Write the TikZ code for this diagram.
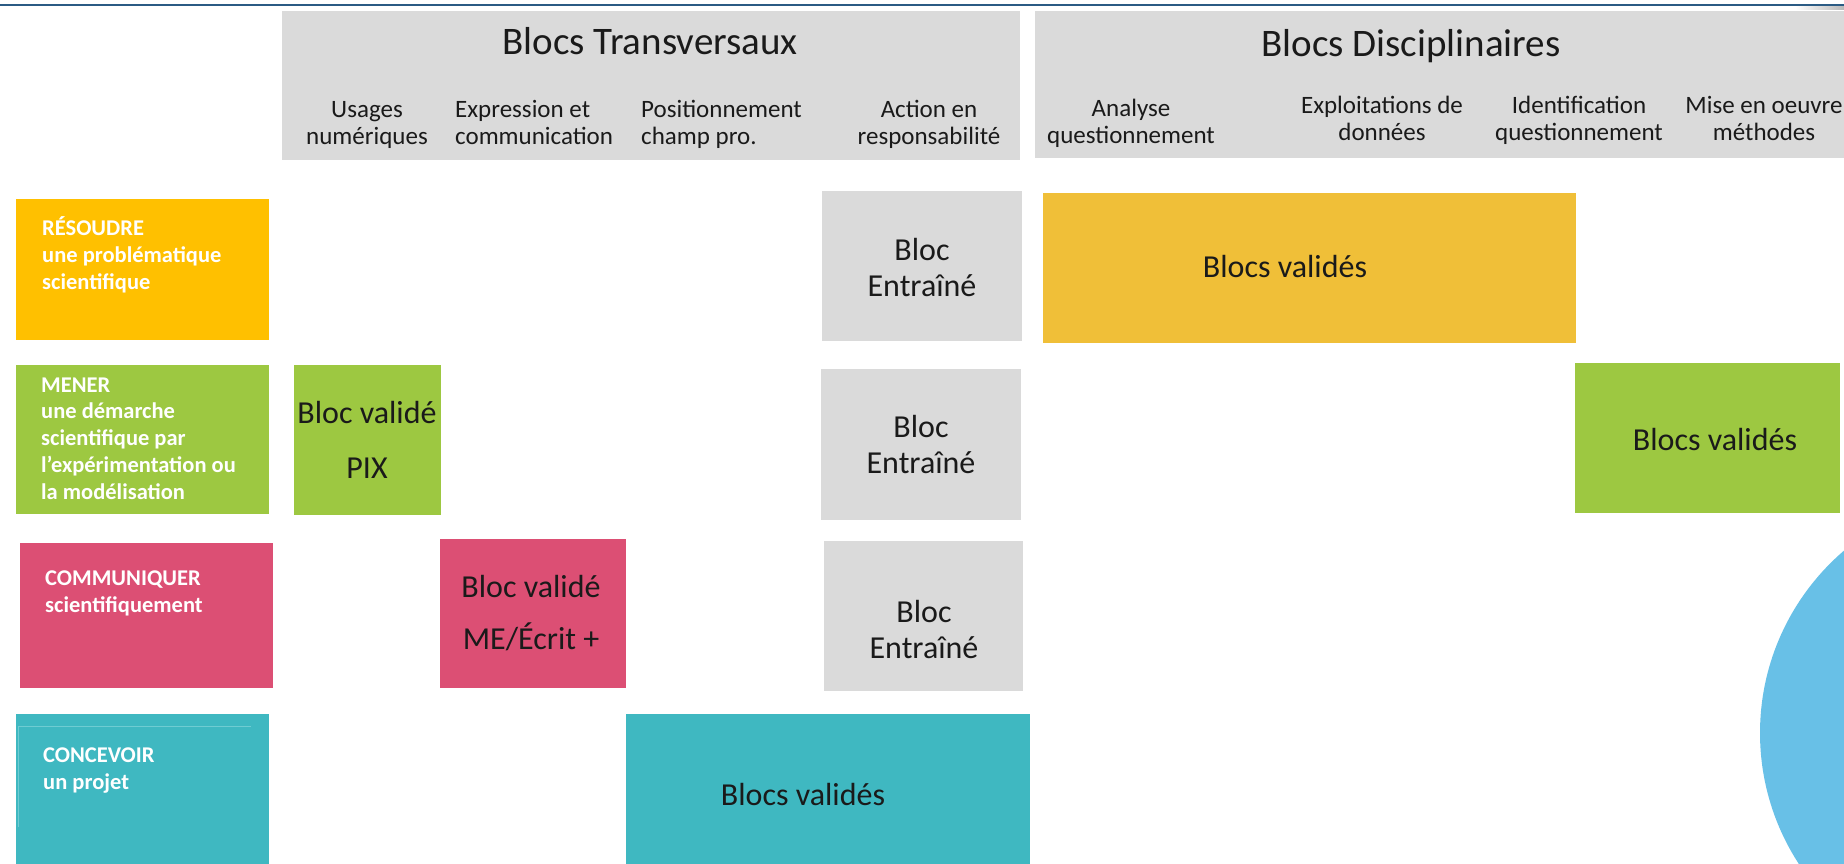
\documentclass[tikz,border=0pt]{standalone}
\usepackage{fontspec}
\setmainfont{Carlito}
\definecolor{cgray}{HTML}{DADADA}
\definecolor{cyel}{HTML}{FFC000}
\definecolor{cyelb}{HTML}{F0BF38}
\definecolor{cgrn}{HTML}{9DC841}
\definecolor{cpink}{HTML}{DC4F74}
\definecolor{cteal}{HTML}{3FB8C1}
\definecolor{ctealln}{HTML}{6FCCD2}
\definecolor{ccirc}{HTML}{68C0E7}
\definecolor{cline}{HTML}{2B5B84}
\definecolor{ctxt}{HTML}{1A1A1A}
\begin{document}
\begin{tikzpicture}[x=1pt,y=-1pt,
  cell/.style={rectangle, inner sep=0pt, outer sep=0pt, anchor=north west, draw=none},
  lab/.style={anchor=base west, inner sep=0pt, align=left, text=white, font=\fontsize{22.5}{26.75}\selectfont\bfseries},
  colhead/.style={anchor=base, inner sep=0pt, align=center, text=ctxt, font=\fontsize{25}{27}\selectfont},
  colheadl/.style={colhead, anchor=base west, align=left},
  titletxt/.style={anchor=base, inner sep=0pt, text=ctxt, font=\fontsize{39}{42}\selectfont},
  blk/.style={anchor=base, inner sep=0pt, align=center, text=ctxt, font=\fontsize{32}{36}\selectfont}
]
\useasboundingbox (0,0) rectangle (1844,864);
% background circle (clipped)
\begin{scope}
  \clip (0,0) rectangle (1844,864);
  \fill[ccirc] (2000,733) circle[radius=240];
\end{scope}
% top rule and its faint shadow at the right end
\shade[left color=white, right color=gray!55] (1795,6) rectangle (1844,10);
\draw[cline, line width=2.5pt] (0,5) -- (1844,5);

% headers
\node[cell, fill=cgray, minimum width=738pt, minimum height=149pt] (hT) at (282,11) {};
\node[cell, fill=cgray, minimum width=815pt, minimum height=147pt] (hD) at (1035,11) {};
\node[titletxt] (tT) at (650,55) {Blocs Transversaux};
\node[titletxt] (tD) at (1411,57) {Blocs Disciplinaires};

\node[colhead] (c1) at (367,145) {Usages\\numériques};
\node[colheadl] (c2) at (455,145) {Expression et\\communication};
\node[colheadl] (c3) at (641,145) {Positionnement\\champ pro.};
\node[colhead] (c4) at (929,144) {Action en\\responsabilité};
\node[colhead] (c5) at (1131,143) {Analyse\\questionnement};
\node[colhead] (c6) at (1382,140) {Exploitations de\\données};
\node[colhead] (c7) at (1579,140) {Identification\\questionnement};
\node[colhead] (c8) at (1764,140) {Mise en oeuvre\\méthodes};

% row labels
\node[cell, fill=cyel, minimum width=253pt, minimum height=141pt] (res) at (16,199) {};
\node[lab] (rest) at (42,289) {RÉSOUDRE\\une problématique\\scientifique};
\node[cell, fill=cgrn, minimum width=253pt, minimum height=149pt] (men) at (16,365) {};
\node[lab] (ment) at (41,499) {MENER\\une démarche\\scientifique par\\l’expérimentation ou\\la modélisation};
\node[cell, fill=cpink, minimum width=253pt, minimum height=145pt] (com) at (20,543) {};
\node[lab] (comt) at (45,612) {COMMUNIQUER\\scientifiquement};
\node[cell, fill=cteal, minimum width=253pt, minimum height=155pt] (con) at (16,714) {};
\draw[ctealln, line width=1pt] (18,726) -- (251,726);
\draw[ctealln, line width=1pt] (18,726) -- (18,827);
\node[lab] (cont) at (43,789) {CONCEVOIR\\un projet};

% transversal blocks
\node[cell, fill=cgrn, minimum width=147pt, minimum height=150pt] (pix) at (294,365) {};
\node[blk, font=\fontsize{32}{55}\selectfont] (pixt) at (367,478) {Bloc validé\\PIX};
\node[cell, fill=cpink, minimum width=186pt, minimum height=149pt] (me) at (440,539) {};
\node[blk, font=\fontsize{32}{52}\selectfont] (met) at (531,649) {Bloc validé\\ME/Écrit +};
\node[cell, fill=cgray, minimum width=200pt, minimum height=150pt] (e1) at (822,191) {};
\node[blk] (e1t) at (922,296) {Bloc\\Entraîné};
\node[cell, fill=cgray, minimum width=200pt, minimum height=151pt] (e2) at (821,369) {};
\node[blk] (e2t) at (921,473) {Bloc\\Entraîné};
\node[cell, fill=cgray, minimum width=199pt, minimum height=150pt] (e3) at (824,541) {};
\node[blk] (e3t) at (924,658) {Bloc\\Entraîné};
\node[cell, fill=cteal, minimum width=404pt, minimum height=155pt] (tea) at (626,714) {};
\node[blk] (teat) at (803,805) {Blocs validés};

% disciplinary blocks
\node[cell, fill=cyelb, minimum width=533pt, minimum height=150pt] (yel) at (1043,193) {};
\node[blk] (yelt) at (1285,277) {Blocs validés};
\node[cell, fill=cgrn, minimum width=265pt, minimum height=150pt] (grn) at (1575,363) {};
\node[blk] (grnt) at (1715,450) {Blocs validés};
\end{tikzpicture}
\end{document}
